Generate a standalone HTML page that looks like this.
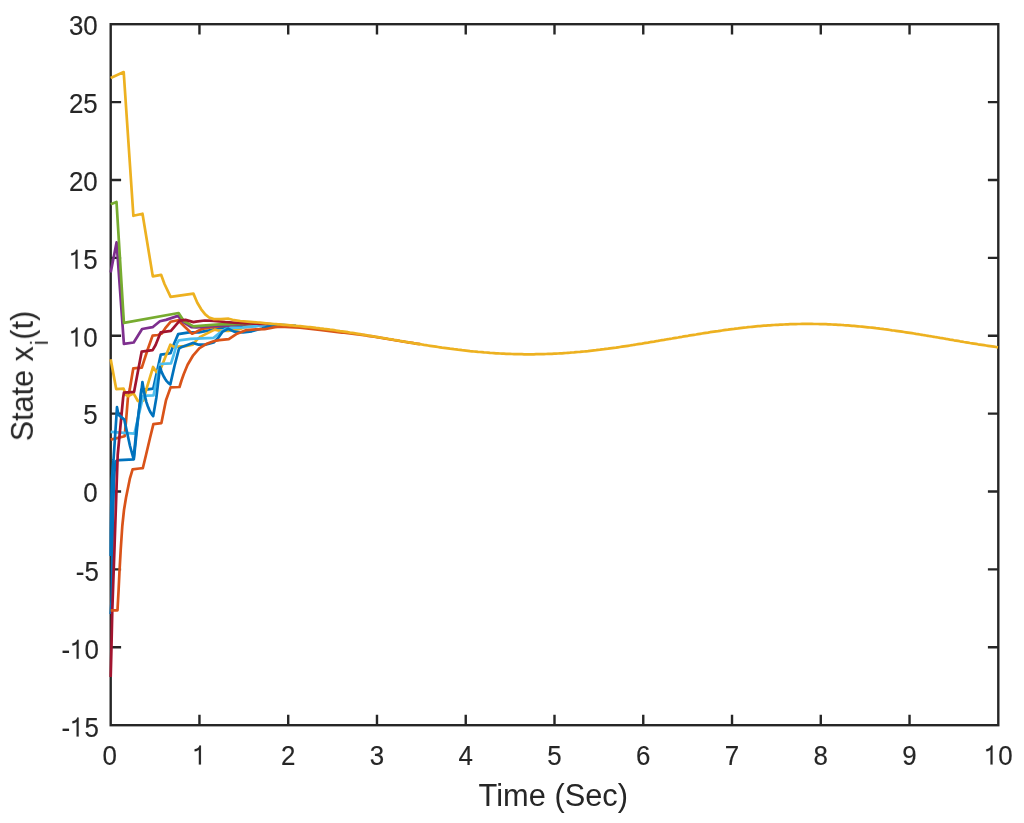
<!DOCTYPE html>
<html><head><meta charset="utf-8"><style>
html,body{margin:0;padding:0;background:#fff;}
svg{display:block;}
text{font-family:"Liberation Sans",sans-serif;fill:#262626;}
</style></head><body>
<svg width="1024" height="823" viewBox="0 0 1024 823">
<rect width="1024" height="823" fill="#fff"/>
<g fill="none" stroke="#262626" stroke-width="2.4">
<path d="M199.46,725.20 V714.80 M199.46,24.20 V34.60 M288.22,725.20 V714.80 M288.22,24.20 V34.60 M376.98,725.20 V714.80 M376.98,24.20 V34.60 M465.74,725.20 V714.80 M465.74,24.20 V34.60 M554.50,725.20 V714.80 M554.50,24.20 V34.60 M643.26,725.20 V714.80 M643.26,24.20 V34.60 M732.02,725.20 V714.80 M732.02,24.20 V34.60 M820.78,725.20 V714.80 M820.78,24.20 V34.60 M909.54,725.20 V714.80 M909.54,24.20 V34.60 M110.70,647.31 H121.10 M998.30,647.31 H987.90 M110.70,569.42 H121.10 M998.30,569.42 H987.90 M110.70,491.53 H121.10 M998.30,491.53 H987.90 M110.70,413.64 H121.10 M998.30,413.64 H987.90 M110.70,335.76 H121.10 M998.30,335.76 H987.90 M110.70,257.87 H121.10 M998.30,257.87 H987.90 M110.70,179.98 H121.10 M998.30,179.98 H987.90 M110.70,102.09 H121.10 M998.30,102.09 H987.90"/>
<rect x="110.70" y="24.20" width="887.60" height="701.00" stroke-linejoin="miter"/>
</g>
<g fill="none" stroke-width="2.7" stroke-linejoin="round" stroke-linecap="butt">
<path d="M110.7,614.0 L111.6,600.0 L112.0,580.0 L112.3,555.0 L112.7,530.0 L113.3,505.0 L114.0,480.0 L114.8,468.0 L115.6,461.5 L117.2,460.2 L119.2,460.1 L133.8,459.3 L137.5,424.0 L141.3,389.6 L147.7,389.3 L153.2,388.7 L160.8,354.6 L166.6,353.8 L170.5,353.2 L173.5,345.0 L178.2,334.1 L189.2,332.3 L198.9,332.4 L207.7,330.7 L218.3,328.4 L228.2,327.2 L245.0,326.3 L256.0,326.0 L258.0,325.7 L260.0,325.5 L262.0,325.3 L264.0,325.2 L266.0,325.0 L268.0,325.0 L270.0,324.9 L272.0,324.9 L274.0,324.9 L276.0,324.9 L278.0,325.0 L280.0,325.0 L282.0,325.1 L284.0,325.2 L286.0,325.3 L288.0,325.4 L290.0,325.5 L292.0,325.7 L294.0,325.8 L296.0,326.0" stroke="#0072BD"/>
<path d="M110.7,439.6 L124.7,436.2 L126.3,418.0 L127.9,398.0 L129.8,388.9 L133.3,368.3 L141.8,367.7 L147.5,350.0 L152.6,335.6 L158.0,335.0 L161.8,333.5 L165.1,328.4 L170.6,321.8 L178.2,320.2 L185.0,327.0 L192.1,333.7 L196.0,331.9 L201.9,329.0 L210.6,327.5 L220.6,326.1 L232.0,325.3 L234.0,325.1 L236.0,324.9 L238.0,324.7 L240.0,324.6 L242.0,324.4 L244.0,324.3 L246.0,324.3 L248.0,324.2 L250.0,324.2 L252.0,324.1 L254.0,324.1 L256.0,324.1 L258.0,324.1 L260.0,324.1 L262.0,324.1 L264.0,324.2 L266.0,324.2 L268.0,324.3 L270.0,324.3 L272.0,324.4" stroke="#D95319"/>
<path d="M110.7,359.2 L116.2,389.1 L123.6,388.6 L125.8,394.8 L128.0,396.2 L133.5,393.3 L137.9,401.0 L140.5,401.5 L143.3,400.6 L145.9,390.8 L153.1,367.0 L156.4,372.1 L161.0,368.0 L165.0,358.0 L170.3,344.7 L173.9,346.9 L185.5,346.2 L192.8,344.7 L196.4,340.3 L200.7,336.6 L207.7,333.1 L214.7,329.6 L219.4,330.7 L228.2,331.0 L240.0,329.0 L242.0,328.2 L244.0,327.5 L246.0,327.0 L248.0,326.5 L250.0,326.1 L252.0,325.8 L254.0,325.5 L256.0,325.3 L258.0,325.1 L260.0,325.0 L262.0,324.8 L264.0,324.8 L266.0,324.7 L268.0,324.7 L270.0,324.7 L272.0,324.7 L274.0,324.8 L276.0,324.8 L278.0,324.9 L280.0,324.9" stroke="#EDB120"/>
<path d="M110.7,272.5 L116.6,242.3 L123.9,343.9 L133.7,342.5 L142.1,329.0 L152.6,327.2 L159.9,321.3 L166.0,319.9 L177.9,315.9 L183.3,322.1 L191.3,327.2 L196.4,327.4 L215.0,326.0 L230.0,325.4 L232.0,325.2 L234.0,325.0 L236.0,324.8 L238.0,324.6 L240.0,324.5 L242.0,324.4 L244.0,324.3 L246.0,324.2 L248.0,324.2 L250.0,324.1 L252.0,324.1 L254.0,324.1 L256.0,324.1 L258.0,324.1 L260.0,324.1 L262.0,324.1 L264.0,324.2 L266.0,324.2 L268.0,324.3 L270.0,324.3" stroke="#7E2F8E"/>
<path d="M110.7,204.3 L116.5,201.9 L123.9,322.8 L178.6,313.0 L184.0,321.3 L193.5,326.4 L196.0,326.1 L219.4,324.3 L240.0,323.9 L242.0,323.9 L244.0,323.9 L246.0,323.9 L248.0,323.9 L250.0,323.9 L252.0,323.9 L254.0,323.9 L256.0,323.9 L258.0,324.0 L260.0,324.0 L262.0,324.0 L264.0,324.1 L266.0,324.1 L268.0,324.2 L270.0,324.3 L272.0,324.4 L274.0,324.5 L276.0,324.6 L278.0,324.7 L280.0,324.8" stroke="#77AC30"/>
<path d="M110.7,431.9 L134.4,433.7 L139.0,414.0 L143.2,396.0 L146.9,395.6 L153.5,395.4 L160.0,364.0 L171.0,363.3 L174.0,354.0 L176.8,343.6 L179.0,340.3 L190.6,338.8 L213.6,337.8 L219.4,333.1 L225.3,329.0 L231.1,327.8 L242.9,327.5 L256.0,326.1 L258.0,325.8 L260.0,325.6 L262.0,325.4 L264.0,325.2 L266.0,325.1 L268.0,325.0 L270.0,325.0 L272.0,324.9 L274.0,324.9 L276.0,325.0 L278.0,325.0 L280.0,325.1 L282.0,325.1 L284.0,325.2 L286.0,325.3 L288.0,325.4 L290.0,325.6 L292.0,325.7 L294.0,325.8 L296.0,326.0" stroke="#4DBEEE"/>
<path d="M110.7,677.0 L111.4,650.0 L112.3,610.0 L114.6,545.0 L116.8,480.0 L117.7,455.0 L123.1,398.0 L123.9,392.7 L134.1,391.8 L141.7,351.6 L152.6,350.1 L155.6,345.0 L160.7,332.3 L170.9,330.8 L179.7,320.6 L185.5,319.9 L193.5,322.1 L196.0,321.7 L204.8,320.5 L213.6,320.8 L225.3,322.0 L237.0,322.8 L239.0,323.0 L241.0,323.1 L243.0,323.2 L245.0,323.3 L247.0,323.4 L249.0,323.4 L251.0,323.5 L253.0,323.6 L255.0,323.7 L257.0,323.7 L259.0,323.8 L261.0,323.9 L263.0,323.9 L265.0,324.0 L267.0,324.1 L269.0,324.2 L271.0,324.3 L273.0,324.4 L275.0,324.5 L277.0,324.6" stroke="#A2142F"/>
<path d="M110.7,556.0 L110.9,530.0 L111.3,505.0 L111.9,480.0 L112.7,468.0 L113.5,460.0 L114.5,445.0 L115.5,430.0 L116.3,418.0 L117.0,407.2 L118.4,414.6 L124.3,419.6 L127.0,432.0 L130.0,446.0 L133.6,458.8 L136.6,427.2 L140.3,401.6 L142.4,382.1 L143.8,390.3 L145.1,396.9 L146.4,402.1 L147.8,406.3 L149.2,409.6 L150.5,412.3 L151.8,414.4 L153.2,416.1 L156.3,398.0 L160.0,367.0 L161.3,371.0 L162.6,374.2 L163.9,376.8 L165.2,379.0 L166.4,380.8 L167.7,382.2 L169.0,383.4 L170.3,384.4 L174.6,365.5 L179.0,348.7 L181.9,346.9 L192.8,342.9 L198.6,344.7 L205.2,344.7 L213.6,342.5 L218.3,337.8 L222.4,331.9 L228.2,328.7 L234.1,331.6 L242.9,332.5 L251.7,331.3 L262.0,328.5 L264.0,327.9 L266.0,327.3 L268.0,326.9 L270.0,326.6 L272.0,326.3 L274.0,326.1 L276.0,325.9 L278.0,325.8 L280.0,325.8 L282.0,325.7 L284.0,325.7 L286.0,325.7 L288.0,325.8 L290.0,325.9 L292.0,325.9 L294.0,326.0 L296.0,326.2 L298.0,326.3 L300.0,326.4 L302.0,326.6" stroke="#0072BD"/>
<path d="M110.7,610.3 L117.5,610.3 L118.6,590.0 L119.4,573.2 L120.7,550.0 L122.3,526.0 L124.0,510.0 L126.0,497.7 L129.8,478.9 L132.6,469.4 L139.2,468.5 L142.8,468.2 L146.0,455.0 L150.0,438.0 L153.4,424.1 L161.4,423.1 L164.0,410.0 L166.0,400.2 L170.6,387.4 L179.5,387.0 L181.5,380.5 L183.7,374.2 L187.6,364.8 L193.2,355.3 L199.5,348.2 L207.4,343.4 L213.6,341.2 L219.2,340.1 L228.8,339.2 L237.0,333.7 L245.8,330.2 L256.0,329.3 L264.6,329.2 L275.0,327.1 L280.0,326.6 L300.0,327.6 L320.0,330.0 L340.0,332.4 L342.0,332.6 L344.0,332.7 L346.0,332.9 L348.0,333.2 L350.0,333.4 L352.0,333.6 L354.0,333.8 L356.0,334.1 L358.0,334.4 L360.0,334.6 L362.0,334.9 L364.0,335.2 L366.0,335.5 L368.0,335.8 L370.0,336.1 L372.0,336.4 L374.0,336.7 L376.0,337.0 L378.0,337.3 L380.0,337.7 L382.0,338.0 L384.0,338.3 L386.0,338.6 L388.0,339.0 L390.0,339.3 L392.0,339.6 L394.0,340.0 L396.0,340.3 L398.0,340.6 L400.0,341.0 L402.0,341.3 L404.0,341.6 L406.0,342.0 L408.0,342.3 L410.0,342.6 L412.0,342.9 L414.0,343.3 L416.0,343.6 L418.0,343.9 L420.0,344.2" stroke="#D95319"/>
<path d="M110.7,78.1 L123.7,72.1 L133.4,215.8 L142.5,213.7 L152.8,276.4 L161.1,274.8 L164.5,284.0 L170.6,296.9 L193.4,293.6 L197.3,302.7 L201.2,309.3 L205.2,314.4 L209.1,317.5 L213.8,319.1 L220.8,319.1 L228.6,318.7 L232.5,319.8 L240.3,321.0 L250.0,321.8 L256.0,322.3 L258.0,322.5 L260.0,322.7 L262.0,322.9 L264.0,323.1 L266.0,323.3 L268.0,323.5 L270.0,323.6 L272.0,323.8 L274.0,324.0 L276.0,324.1 L278.0,324.3 L280.0,324.4 L282.0,324.6 L284.0,324.8 L286.0,324.9 L288.0,325.1 L290.0,325.3 L292.0,325.4 L294.0,325.6 L296.0,325.8 L298.0,326.0 L300.0,326.2 L302.0,326.4 L304.0,326.6 L306.0,326.8 L308.0,327.0 L310.0,327.2 L312.0,327.4 L314.0,327.6 L316.0,327.9 L318.0,328.1 L320.0,328.4 L322.0,328.6 L324.0,328.9 L326.0,329.1 L328.0,329.4 L330.0,329.7 L332.0,329.9 L334.0,330.2 L336.0,330.5 L338.0,330.8 L340.0,331.1 L342.0,331.3 L344.0,331.6 L346.0,331.9 L348.0,332.2 L350.0,332.6 L352.0,332.9 L354.0,333.2 L356.0,333.5 L358.0,333.8 L360.0,334.1 L362.0,334.5 L364.0,334.8 L366.0,335.1 L368.0,335.5 L370.0,335.8 L372.0,336.1 L374.0,336.5 L376.0,336.8 L378.0,337.1 L380.0,337.5 L382.0,337.8 L384.0,338.2 L386.0,338.5 L388.0,338.8 L390.0,339.2 L392.0,339.5 L394.0,339.9 L396.0,340.2 L398.0,340.5 L400.0,340.9 L402.0,341.2 L404.0,341.6 L406.0,341.9 L408.0,342.2 L410.0,342.6 L412.0,342.9 L414.0,343.2 L416.0,343.6 L418.0,343.9 L420.0,344.2 L422.0,344.5 L424.0,344.9 L426.0,345.2 L428.0,345.5 L430.0,345.8 L432.0,346.1 L434.0,346.4 L436.0,346.7 L438.0,347.0 L440.0,347.3 L442.0,347.6 L444.0,347.8 L446.0,348.1 L448.0,348.4 L450.0,348.7 L452.0,348.9 L454.0,349.2 L456.0,349.4 L458.0,349.7 L460.0,349.9 L462.0,350.2 L464.0,350.4 L466.0,350.6 L468.0,350.8 L470.0,351.1 L472.0,351.3 L474.0,351.5 L476.0,351.7 L478.0,351.9 L480.0,352.0 L482.0,352.2 L484.0,352.4 L486.0,352.5 L488.0,352.7 L490.0,352.9 L492.0,353.0 L494.0,353.1 L496.0,353.3 L498.0,353.4 L500.0,353.5 L502.0,353.6 L504.0,353.7 L506.0,353.8 L508.0,353.9 L510.0,353.9 L512.0,354.0 L514.0,354.1 L516.0,354.1 L518.0,354.2 L520.0,354.2 L522.0,354.2 L524.0,354.3 L526.0,354.3 L528.0,354.3 L530.0,354.3 L532.0,354.3 L534.0,354.3 L536.0,354.2 L538.0,354.2 L540.0,354.2 L542.0,354.1 L544.0,354.1 L546.0,354.0 L548.0,353.9 L550.0,353.9 L552.0,353.8 L554.0,353.7 L556.0,353.6 L558.0,353.5 L560.0,353.4 L562.0,353.3 L564.0,353.1 L566.0,353.0 L568.0,352.8 L570.0,352.7 L572.0,352.5 L574.0,352.4 L576.0,352.2 L578.0,352.0 L580.0,351.9 L582.0,351.7 L584.0,351.5 L586.0,351.3 L588.0,351.1 L590.0,350.8 L592.0,350.6 L594.0,350.4 L596.0,350.2 L598.0,349.9 L600.0,349.7 L602.0,349.4 L604.0,349.2 L606.0,348.9 L608.0,348.7 L610.0,348.4 L612.0,348.1 L614.0,347.8 L616.0,347.6 L618.0,347.3 L620.0,347.0 L622.0,346.7 L624.0,346.4 L626.0,346.1 L628.0,345.8 L630.0,345.5 L632.0,345.2 L634.0,344.8 L636.0,344.5 L638.0,344.2 L640.0,343.9 L642.0,343.6 L644.0,343.2 L646.0,342.9 L648.0,342.6 L650.0,342.2 L652.0,341.9 L654.0,341.6 L656.0,341.2 L658.0,340.9 L660.0,340.5 L662.0,340.2 L664.0,339.9 L666.0,339.5 L668.0,339.2 L670.0,338.8 L672.0,338.5 L674.0,338.1 L676.0,337.8 L678.0,337.5 L680.0,337.1 L682.0,336.8 L684.0,336.4 L686.0,336.1 L688.0,335.8 L690.0,335.4 L692.0,335.1 L694.0,334.8 L696.0,334.5 L698.0,334.1 L700.0,333.8 L702.0,333.5 L704.0,333.2 L706.0,332.9 L708.0,332.6 L710.0,332.2 L712.0,331.9 L714.0,331.6 L716.0,331.3 L718.0,331.1 L720.0,330.8 L722.0,330.5 L724.0,330.2 L726.0,329.9 L728.0,329.7 L730.0,329.4 L732.0,329.1 L734.0,328.9 L736.0,328.6 L738.0,328.4 L740.0,328.1 L742.0,327.9 L744.0,327.7 L746.0,327.5 L748.0,327.2 L750.0,327.0 L752.0,326.8 L754.0,326.6 L756.0,326.4 L758.0,326.2 L760.0,326.1 L762.0,325.9 L764.0,325.7 L766.0,325.6 L768.0,325.4 L770.0,325.3 L772.0,325.1 L774.0,325.0 L776.0,324.9 L778.0,324.8 L780.0,324.7 L782.0,324.6 L784.0,324.5 L786.0,324.4 L788.0,324.3 L790.0,324.2 L792.0,324.2 L794.0,324.1 L796.0,324.1 L798.0,324.0 L800.0,324.0 L802.0,323.9 L804.0,323.9 L806.0,323.9 L808.0,323.9 L810.0,323.9 L812.0,323.9 L814.0,324.0 L816.0,324.0 L818.0,324.0 L820.0,324.1 L822.0,324.1 L824.0,324.2 L826.0,324.2 L828.0,324.3 L830.0,324.4 L832.0,324.5 L834.0,324.6 L836.0,324.7 L838.0,324.8 L840.0,324.9 L842.0,325.0 L844.0,325.2 L846.0,325.3 L848.0,325.4 L850.0,325.6 L852.0,325.8 L854.0,325.9 L856.0,326.1 L858.0,326.3 L860.0,326.5 L862.0,326.7 L864.0,326.9 L866.0,327.1 L868.0,327.3 L870.0,327.5 L872.0,327.7 L874.0,327.9 L876.0,328.2 L878.0,328.4 L880.0,328.7 L882.0,328.9 L884.0,329.2 L886.0,329.4 L888.0,329.7 L890.0,330.0 L892.0,330.3 L894.0,330.5 L896.0,330.8 L898.0,331.1 L900.0,331.4 L902.0,331.7 L904.0,332.0 L906.0,332.3 L908.0,332.6 L910.0,332.9 L912.0,333.2 L914.0,333.5 L916.0,333.9 L918.0,334.2 L920.0,334.5 L922.0,334.8 L924.0,335.2 L926.0,335.5 L928.0,335.8 L930.0,336.2 L932.0,336.5 L934.0,336.8 L936.0,337.2 L938.0,337.5 L940.0,337.9 L942.0,338.2 L944.0,338.5 L946.0,338.9 L948.0,339.2 L950.0,339.6 L952.0,339.9 L954.0,340.3 L956.0,340.6 L958.0,340.9 L960.0,341.3 L962.0,341.6 L964.0,342.0 L966.0,342.3 L968.0,342.6 L970.0,343.0 L972.0,343.3 L974.0,343.6 L976.0,343.9 L978.0,344.3 L980.0,344.6 L982.0,344.9 L984.0,345.2 L986.0,345.5 L988.0,345.8 L990.0,346.1 L992.0,346.4 L994.0,346.7 L996.0,347.0 L998.0,347.3" stroke="#EDB120"/>
</g>
<g font-size="26.7" fill="#262626" stroke="#262626" stroke-width="0.15" opacity="0.999">
<g transform="translate(109.70,764.60) scale(0.97,1.05)"><text x="-7.42" y="0">0</text></g>
<g transform="translate(199.46,764.60) scale(0.97,1.05)"><path transform="translate(-7.42,0)" d="M8.95,0 V-18.1 H7.4 C7.0,-16.0 5.2,-14.9 2.4,-14.6 V-12.6 C4.6,-12.7 6.0,-13.3 6.8,-14.1 V0 Z"/></g>
<g transform="translate(288.22,764.60) scale(0.97,1.05)"><text x="-7.42" y="0">2</text></g>
<g transform="translate(376.98,764.60) scale(0.97,1.05)"><text x="-7.42" y="0">3</text></g>
<g transform="translate(465.74,764.60) scale(0.97,1.05)"><text x="-7.42" y="0">4</text></g>
<g transform="translate(554.50,764.60) scale(0.97,1.05)"><text x="-7.42" y="0">5</text></g>
<g transform="translate(643.26,764.60) scale(0.97,1.05)"><text x="-7.42" y="0">6</text></g>
<g transform="translate(732.02,764.60) scale(0.97,1.05)"><text x="-7.42" y="0">7</text></g>
<g transform="translate(820.78,764.60) scale(0.97,1.05)"><text x="-7.42" y="0">8</text></g>
<g transform="translate(909.54,764.60) scale(0.97,1.05)"><text x="-7.42" y="0">9</text></g>
<g transform="translate(998.30,764.60) scale(0.97,1.05)"><path transform="translate(-14.85,0)" d="M8.95,0 V-18.1 H7.4 C7.0,-16.0 5.2,-14.9 2.4,-14.6 V-12.6 C4.6,-12.7 6.0,-13.3 6.8,-14.1 V0 Z"/><text x="0.00" y="0">0</text></g>
<g transform="translate(98.80,736.60) scale(0.97,1.05)"><text x="-38.58" y="0">-</text><path transform="translate(-29.69,0)" d="M8.95,0 V-18.1 H7.4 C7.0,-16.0 5.2,-14.9 2.4,-14.6 V-12.6 C4.6,-12.7 6.0,-13.3 6.8,-14.1 V0 Z"/><text x="-14.85" y="0">5</text></g>
<g transform="translate(98.80,658.71) scale(0.97,1.05)"><text x="-38.58" y="0">-</text><path transform="translate(-29.69,0)" d="M8.95,0 V-18.1 H7.4 C7.0,-16.0 5.2,-14.9 2.4,-14.6 V-12.6 C4.6,-12.7 6.0,-13.3 6.8,-14.1 V0 Z"/><text x="-14.85" y="0">0</text></g>
<g transform="translate(98.80,580.82) scale(0.97,1.05)"><text x="-23.74" y="0">-</text><text x="-14.85" y="0">5</text></g>
<g transform="translate(97.70,502.33) scale(0.97,1.05)"><text x="-14.85" y="0">0</text></g>
<g transform="translate(97.70,424.44) scale(0.97,1.05)"><text x="-14.85" y="0">5</text></g>
<g transform="translate(97.70,346.56) scale(0.97,1.05)"><path transform="translate(-29.69,0)" d="M8.95,0 V-18.1 H7.4 C7.0,-16.0 5.2,-14.9 2.4,-14.6 V-12.6 C4.6,-12.7 6.0,-13.3 6.8,-14.1 V0 Z"/><text x="-14.85" y="0">0</text></g>
<g transform="translate(97.70,268.67) scale(0.97,1.05)"><path transform="translate(-29.69,0)" d="M8.95,0 V-18.1 H7.4 C7.0,-16.0 5.2,-14.9 2.4,-14.6 V-12.6 C4.6,-12.7 6.0,-13.3 6.8,-14.1 V0 Z"/><text x="-14.85" y="0">5</text></g>
<g transform="translate(97.70,190.78) scale(0.97,1.05)"><text x="-29.69" y="0">2</text><text x="-14.85" y="0">0</text></g>
<g transform="translate(97.70,112.89) scale(0.97,1.05)"><text x="-29.69" y="0">2</text><text x="-14.85" y="0">5</text></g>
<g transform="translate(97.70,35.00) scale(0.97,1.05)"><text x="-29.69" y="0">3</text><text x="-14.85" y="0">0</text></g>
<text transform="translate(553.3,805.8) scale(1.01,1.057)" font-size="30.5" text-anchor="middle" stroke="none">Time (Sec)</text>
<g transform="translate(33.3,441.2) rotate(-90) scale(1.0,1.05)">
<text x="0" y="0" font-size="30.5" stroke="none">State x<tspan font-size="22" dx="1.1" dy="13.5">i</tspan><tspan dx="0.7" dy="-13.5">(t)</tspan></text>
</g>
</g>
</svg>
</body></html>
